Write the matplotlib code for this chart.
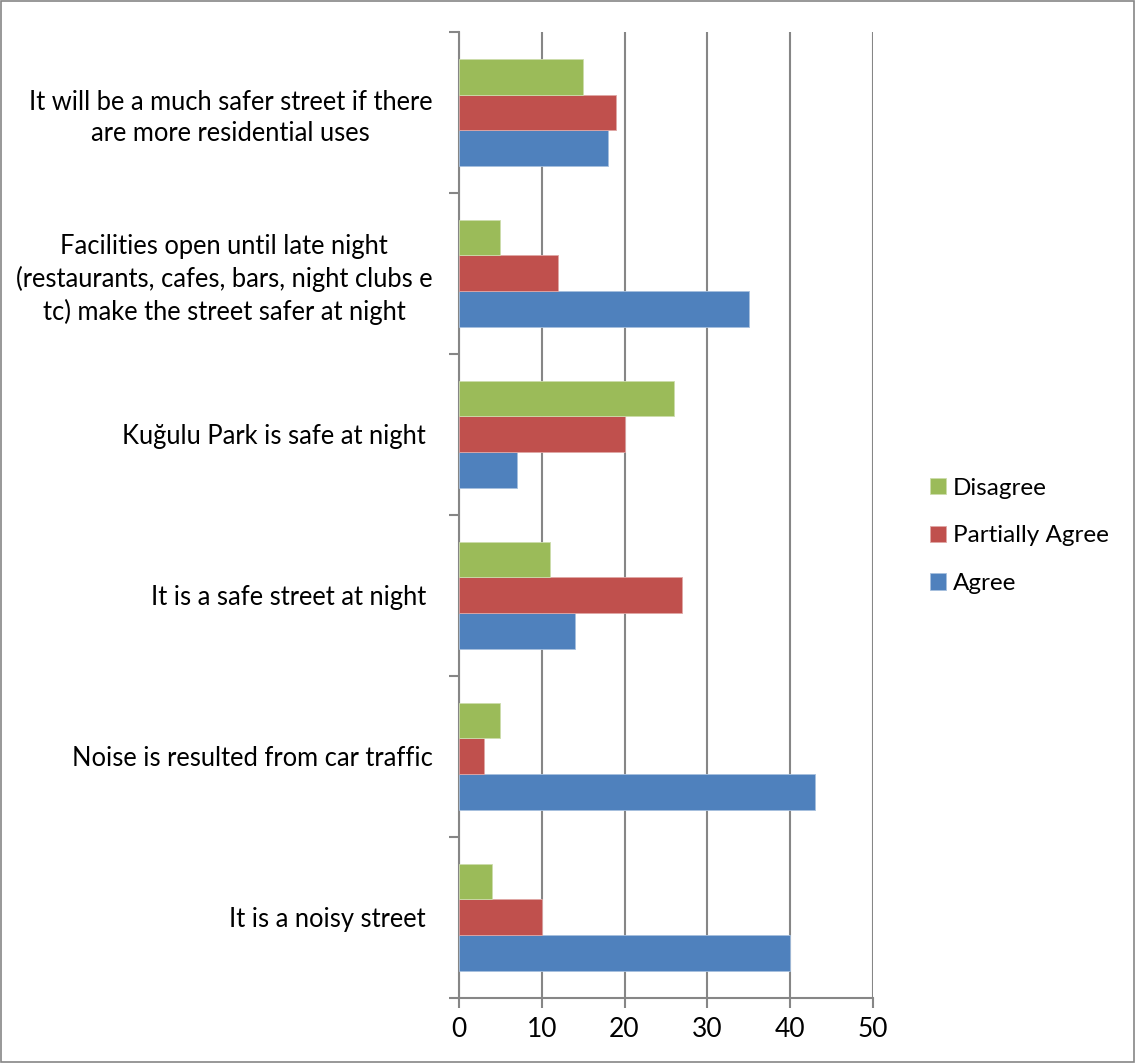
import matplotlib
matplotlib.use("Agg")

import matplotlib.pyplot as plt
import numpy as np
from matplotlib.patches import Rectangle
from matplotlib.ticker import FixedLocator, NullFormatter

# categories from bottom to top
categories = [
    "It is a noisy street ",
    "Noise is resulted from car traffic",
    "It is a safe street at night ",
    "Kuğulu Park is safe at night ",
    "Facilities open until late night\n(restaurants, cafes, bars, night clubs e\ntc) make the street safer at night",
    "It will be a much safer street if there\nare more residential uses",
]
agree = [40, 43, 14, 7, 35, 18]
partially_agree = [10, 3, 27, 20, 12, 19]
disagree = [4, 5, 11, 26, 5, 15]
x_ticks = [0, 10, 20, 30, 40, 50]

plt.rcParams["font.family"] = ["Lato", "DejaVu Sans"]

fig = plt.figure(figsize=(11.35, 10.63), dpi=100)
ax = fig.add_axes([0.4044, 0.0614, 0.3646, 0.9086])

y = np.arange(len(categories))
h = 0.222
ax.barh(y - h, agree, height=h, color="#4F81BD", edgecolor="#A7C0DE", linewidth=0.6, label="Agree", zorder=3)
ax.barh(y, partially_agree, height=h, color="#C0504D", edgecolor="#DFA7A6", linewidth=0.6, label="Partially Agree", zorder=3)
ax.barh(y + h, disagree, height=h, color="#9BBB59", edgecolor="#CDDDAC", linewidth=0.6, label="Disagree", zorder=3)

ax.set_xlim(0, 50)
ax.set_ylim(-0.5, len(categories) - 0.5)
ax.set_xticks(x_ticks)
ax.set_xticklabels([str(t) for t in x_ticks], fontsize=19)
ax.xaxis.grid(True, color="#868686", linewidth=1.5, zorder=0)

# labels at centres, tick marks at category boundaries
ax.yaxis.set_major_locator(FixedLocator(np.arange(-0.5, len(categories), 1.0)))
ax.yaxis.set_major_formatter(NullFormatter())
ax.yaxis.set_minor_locator(FixedLocator(y))
ax.set_yticklabels(categories, minor=True, fontsize=18.4, ha="right",
                   multialignment="center", linespacing=1.32)
ax.tick_params(axis="y", which="minor", length=0, pad=19)
ax.tick_params(axis="y", which="major", length=7, width=1.5, color="#868686")
ax.tick_params(axis="x", length=7, width=1.5, color="#868686", pad=7)

for s in ["top", "right"]:
    ax.spines[s].set_visible(False)
for s in ["left", "bottom"]:
    ax.spines[s].set_color("#868686")
    ax.spines[s].set_linewidth(1.5)

handles, labels = ax.get_legend_handles_labels()
ax.legend(handles[::-1], labels[::-1], loc="center left", bbox_to_anchor=(0.8, 0.496),
          bbox_transform=fig.transFigure, frameon=False, fontsize=17.5,
          handlelength=0.65, handleheight=0.65, handletextpad=0.3, labelspacing=1.1)

fig.patches.append(Rectangle((0.001, 0.001), 0.998, 0.998, transform=fig.transFigure,
                             fill=False, edgecolor="#868686", linewidth=1.2))

fig.savefig("out.png", dpi=100)
plt.close(fig)
